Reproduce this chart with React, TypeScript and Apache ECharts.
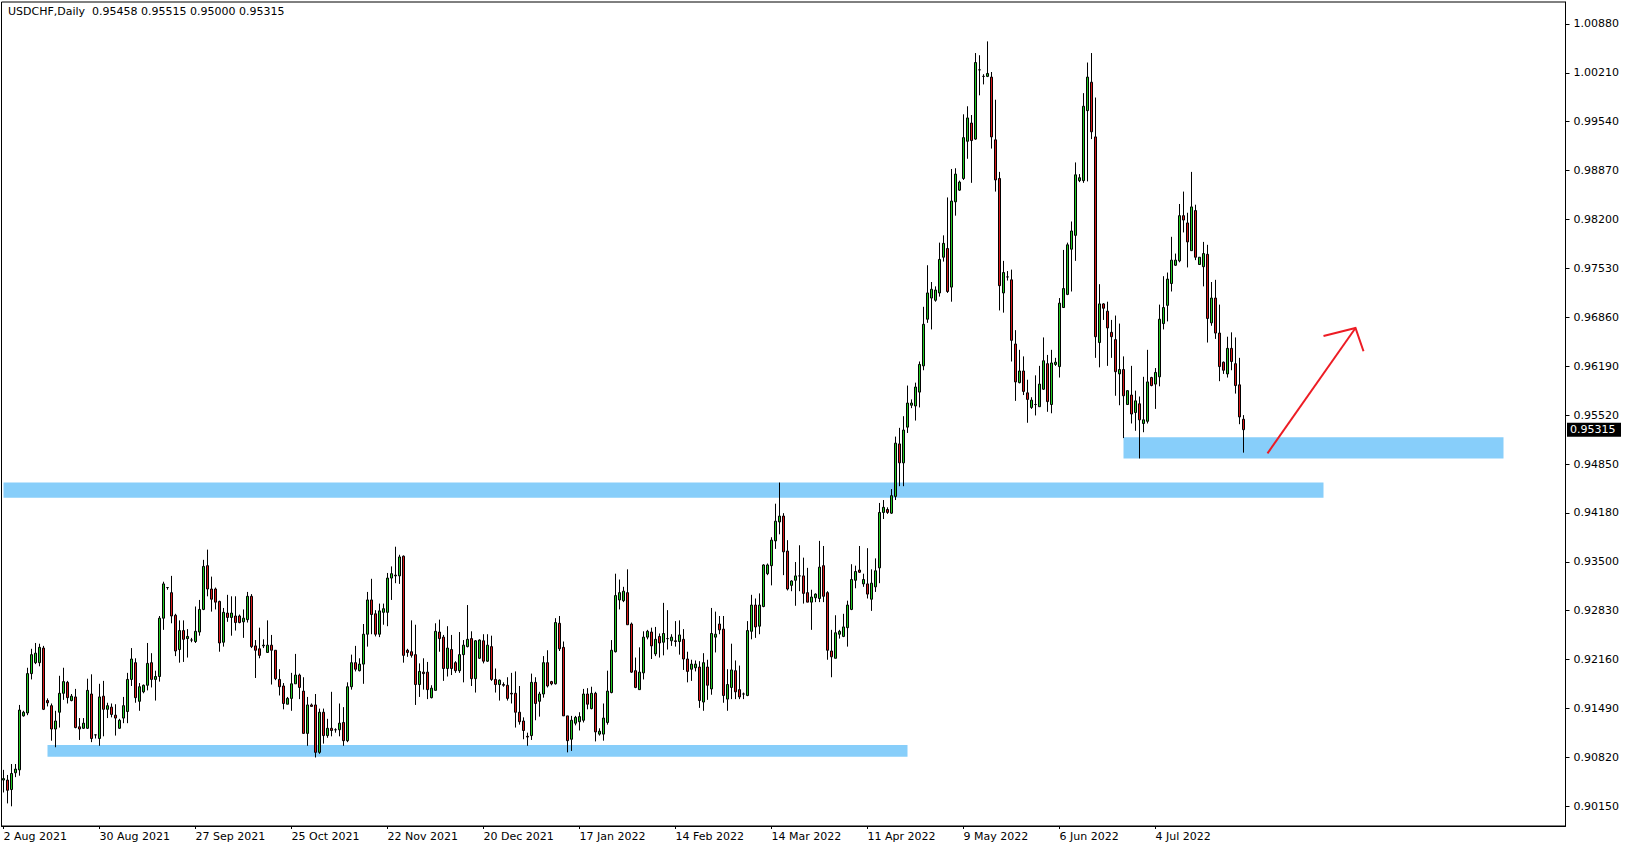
import { useEffect, useRef } from "react";
import * as echarts from "echarts";

// ---------- header / last bar ----------
const SYMBOL_TITLE = "USDCHF,Daily";
const LAST_OHLC = [0.95458, 0.95515, 0.95, 0.95315]; // open, high, low, close (as shown in the header)

// ---------- x axis (daily bars, MT4 incl. Sunday bars) ----------
const DATE_TICK_INDEX = [0, 24, 48, 72, 96, 120, 144, 168, 192, 216, 240, 264, 288];
const DATE_TICK_LABELS = [
  "2 Aug 2021", "30 Aug 2021", "27 Sep 2021", "25 Oct 2021", "22 Nov 2021", "20 Dec 2021",
  "17 Jan 2022", "14 Feb 2022", "14 Mar 2022", "11 Apr 2022", "9 May 2022", "6 Jun 2022", "4 Jul 2022",
];
const EMPTY_SLOTS_RIGHT = 80; // chart shift space to the right of the last bar

// ---------- y axis ----------
const PRICE_MIN = 0.8988;
const PRICE_MAX = 1.0118;
const PRICE_TICKS = [0.9015, 0.90821, 0.91491, 0.92162, 0.92833, 0.93503, 0.94174, 0.94844, 0.95515, 0.96186, 0.96856, 0.97527, 0.98198, 0.98868, 0.99539, 1.00209, 1.0088];
const PRICE_TICK_LABELS = ["0.90150", "0.90820", "0.91490", "0.92160", "0.92830", "0.93500", "0.94180", "0.94850", "0.95520", "0.96190", "0.96860", "0.97530", "0.98200", "0.98870", "0.99540", "1.00210", "1.00880"];

// ---------- candles: [open, close, low, high] ----------
const BARS_2AUG21 = [
  [0.9051, 0.9053, 0.9034, 0.9065], [0.9051, 0.9037, 0.9019, 0.9058], [0.9038, 0.906, 0.9015, 0.9073], [0.9061, 0.9066, 0.9055, 0.9073],
  [0.9065, 0.9147, 0.9057, 0.9154], [0.9139, 0.9144, 0.9138, 0.9146], [0.9143, 0.9197, 0.914, 0.9205], [0.9197, 0.9223, 0.9189, 0.9231],
  [0.9212, 0.9225, 0.921, 0.9239], [0.9212, 0.9233, 0.9207, 0.9238], [0.9232, 0.9148, 0.9147, 0.9235], [0.916, 0.9157, 0.9152, 0.9163],
  [0.9153, 0.9121, 0.9105, 0.9156], [0.9121, 0.9132, 0.9096, 0.9146], [0.9144, 0.917, 0.9123, 0.9194], [0.917, 0.9186, 0.9161, 0.9205],
  [0.9185, 0.9164, 0.9156, 0.9187], [0.916, 0.9166, 0.9159, 0.9169], [0.9165, 0.9123, 0.9122, 0.9176], [0.9124, 0.9121, 0.9106, 0.9136],
  [0.9122, 0.9129, 0.9121, 0.9136], [0.9122, 0.9174, 0.9121, 0.919], [0.9169, 0.9108, 0.9103, 0.9196], [0.9113, 0.9113, 0.9108, 0.9113],
];
const BARS_30AUG21 = [
  [0.9108, 0.9165, 0.9098, 0.9183], [0.9166, 0.9148, 0.9111, 0.9187], [0.9148, 0.9153, 0.9136, 0.9157], [0.9151, 0.9141, 0.9137, 0.9156],
  [0.914, 0.9136, 0.9112, 0.9155], [0.9122, 0.9133, 0.9121, 0.9135], [0.9136, 0.9153, 0.9129, 0.9165], [0.9145, 0.9189, 0.9129, 0.9198],
  [0.9189, 0.9217, 0.918, 0.9232], [0.9212, 0.9164, 0.9157, 0.9218], [0.9159, 0.9179, 0.9146, 0.9184], [0.9172, 0.9181, 0.917, 0.9182],
  [0.9181, 0.9211, 0.9174, 0.9239], [0.9212, 0.9189, 0.9178, 0.9225], [0.9189, 0.9193, 0.916, 0.9201], [0.9193, 0.9273, 0.9186, 0.9276],
  [0.9273, 0.932, 0.9257, 0.9323], [0.9315, 0.9315, 0.9312, 0.9315], [0.9308, 0.9276, 0.9266, 0.9331], [0.9277, 0.9228, 0.9221, 0.9279],
  [0.923, 0.9256, 0.9212, 0.927], [0.9256, 0.9244, 0.9213, 0.927], [0.9245, 0.9248, 0.9219, 0.9258], [0.9243, 0.9243, 0.924, 0.9246],
];
const BARS_27SEP21 = [
  [0.9241, 0.9255, 0.9239, 0.9289], [0.9254, 0.9285, 0.9249, 0.9298], [0.9285, 0.9344, 0.9284, 0.9353], [0.9345, 0.9313, 0.9303, 0.9367],
  [0.9313, 0.9299, 0.9282, 0.933], [0.9313, 0.9295, 0.9285, 0.9315], [0.9296, 0.9239, 0.9227, 0.9297], [0.924, 0.9281, 0.9234, 0.9287],
  [0.928, 0.9274, 0.9268, 0.9305], [0.9274, 0.928, 0.9249, 0.9303], [0.9276, 0.9267, 0.9256, 0.9303], [0.9276, 0.9267, 0.9266, 0.9278],
  [0.9268, 0.9273, 0.9246, 0.9285], [0.9271, 0.9303, 0.9267, 0.9309], [0.9303, 0.9234, 0.9232, 0.9306], [0.9235, 0.9229, 0.9191, 0.9243],
  [0.9231, 0.9222, 0.9218, 0.926], [0.9235, 0.9236, 0.9232, 0.9244], [0.9226, 0.9236, 0.9226, 0.927], [0.9236, 0.9229, 0.9182, 0.925],
  [0.9229, 0.919, 0.9188, 0.9229], [0.9189, 0.9179, 0.9167, 0.9203], [0.918, 0.9156, 0.9148, 0.9184], [0.9155, 0.9163, 0.9155, 0.9165],
];
const BARS_25OCT21 = [
  [0.9163, 0.9183, 0.9146, 0.9198], [0.9183, 0.9195, 0.9183, 0.9224], [0.9195, 0.9178, 0.9162, 0.9197], [0.9173, 0.9115, 0.9115, 0.9192],
  [0.9115, 0.9154, 0.9098, 0.9165], [0.9154, 0.9152, 0.9152, 0.9156], [0.9154, 0.9089, 0.9082, 0.9169], [0.9089, 0.9144, 0.9087, 0.9149],
  [0.9144, 0.9112, 0.9101, 0.9149], [0.9112, 0.9122, 0.9109, 0.9135], [0.9122, 0.9119, 0.9111, 0.9172], [0.912, 0.912, 0.9116, 0.9122],
  [0.912, 0.9129, 0.9111, 0.9156], [0.913, 0.9105, 0.9098, 0.9151], [0.9105, 0.9179, 0.9103, 0.9185], [0.9179, 0.9212, 0.9175, 0.9223],
  [0.9212, 0.9203, 0.92, 0.9235], [0.9201, 0.921, 0.92, 0.9218], [0.921, 0.9251, 0.9183, 0.9265], [0.9251, 0.9298, 0.9234, 0.9309],
  [0.9298, 0.9278, 0.9251, 0.9327], [0.9279, 0.9251, 0.9248, 0.9284], [0.9251, 0.9283, 0.9247, 0.9293], [0.9281, 0.9286, 0.9264, 0.9293],
];
const BARS_22NOV21 = [
  [0.9281, 0.9328, 0.9262, 0.9335], [0.9328, 0.9334, 0.9298, 0.9344], [0.9332, 0.9331, 0.9321, 0.9371], [0.9331, 0.9357, 0.932, 0.936],
  [0.9358, 0.9222, 0.9212, 0.9359], [0.9229, 0.9226, 0.922, 0.9231], [0.9227, 0.9222, 0.9219, 0.927], [0.9223, 0.9182, 0.9154, 0.9264],
  [0.9182, 0.92, 0.9165, 0.9211], [0.9199, 0.9197, 0.9175, 0.9218], [0.9199, 0.9175, 0.9162, 0.9213], [0.9164, 0.9177, 0.9163, 0.9181],
  [0.9174, 0.9255, 0.9174, 0.9266], [0.9254, 0.9245, 0.9227, 0.9271], [0.9247, 0.9204, 0.9187, 0.925], [0.9204, 0.9232, 0.9193, 0.9262],
  [0.923, 0.9204, 0.9195, 0.925], [0.9212, 0.9201, 0.9198, 0.9214], [0.9201, 0.9223, 0.9198, 0.9254], [0.9223, 0.9236, 0.9185, 0.9243],
  [0.9234, 0.9244, 0.9233, 0.9291], [0.9245, 0.919, 0.918, 0.9255], [0.919, 0.9242, 0.9171, 0.9243], [0.9218, 0.9243, 0.9217, 0.9244],
];
const BARS_20DEC21 = [
  [0.9242, 0.9214, 0.9211, 0.9251], [0.9214, 0.9236, 0.9213, 0.9251], [0.9234, 0.9189, 0.9187, 0.9249], [0.9189, 0.9182, 0.9171, 0.9204],
  [0.9182, 0.9188, 0.916, 0.9189], [0.9182, 0.9181, 0.9179, 0.9185], [0.9181, 0.9163, 0.916, 0.9192], [0.917, 0.9169, 0.9156, 0.9198],
  [0.917, 0.9144, 0.9123, 0.92], [0.9144, 0.9131, 0.9127, 0.918], [0.9132, 0.9119, 0.9107, 0.9137], [0.9111, 0.911, 0.9098, 0.9116],
  [0.9112, 0.9185, 0.9106, 0.9197], [0.9185, 0.9156, 0.9133, 0.9192], [0.9159, 0.9169, 0.9138, 0.9172], [0.9169, 0.9212, 0.9164, 0.9221],
  [0.9212, 0.918, 0.9178, 0.9229], [0.9186, 0.9183, 0.9181, 0.9187], [0.9183, 0.9267, 0.9182, 0.9273], [0.9266, 0.9231, 0.9228, 0.9276],
  [0.9233, 0.9139, 0.9139, 0.9241], [0.9139, 0.9105, 0.9089, 0.9139], [0.9107, 0.9133, 0.9091, 0.9139], [0.9129, 0.9137, 0.9126, 0.9139],
];
const BARS_17JAN22 = [
  [0.9131, 0.9138, 0.9119, 0.9144], [0.9133, 0.9169, 0.913, 0.9176], [0.9169, 0.9155, 0.9148, 0.9177], [0.9149, 0.917, 0.9148, 0.9179],
  [0.917, 0.9117, 0.9104, 0.9172], [0.9114, 0.9118, 0.9112, 0.9122], [0.9114, 0.9136, 0.9105, 0.9156], [0.913, 0.9173, 0.9127, 0.9201],
  [0.9171, 0.9229, 0.917, 0.9243], [0.9227, 0.9304, 0.9226, 0.9334], [0.9298, 0.9308, 0.9285, 0.9326], [0.9297, 0.931, 0.9295, 0.9316],
  [0.9308, 0.9264, 0.9264, 0.934], [0.9265, 0.9199, 0.9198, 0.9267], [0.9201, 0.9178, 0.9177, 0.9219], [0.9175, 0.9199, 0.9175, 0.9233],
  [0.9198, 0.9247, 0.9189, 0.9255], [0.9247, 0.9255, 0.9244, 0.9257], [0.9254, 0.9235, 0.9217, 0.926], [0.9224, 0.9244, 0.9221, 0.9261],
  [0.9248, 0.9239, 0.9219, 0.9252], [0.924, 0.9252, 0.9222, 0.9294], [0.9245, 0.9245, 0.923, 0.9284], [0.9242, 0.9247, 0.9235, 0.9251],
];
const BARS_14FEB22 = [
  [0.9242, 0.9241, 0.9234, 0.9269], [0.9241, 0.925, 0.9223, 0.927], [0.9244, 0.9217, 0.9202, 0.9258], [0.9217, 0.92, 0.9185, 0.9227],
  [0.9203, 0.921, 0.9187, 0.9216], [0.9205, 0.921, 0.92, 0.9215], [0.9206, 0.916, 0.915, 0.9214], [0.9158, 0.9212, 0.9146, 0.9225],
  [0.9206, 0.9181, 0.9161, 0.9216], [0.9176, 0.9252, 0.9168, 0.9287], [0.9247, 0.9251, 0.9226, 0.9282], [0.9265, 0.9257, 0.9251, 0.9276],
  [0.9258, 0.9167, 0.9157, 0.9276], [0.9162, 0.9182, 0.9146, 0.9203], [0.9178, 0.9202, 0.9162, 0.9238], [0.9201, 0.9172, 0.9162, 0.9215],
  [0.9175, 0.9165, 0.9162, 0.9208], [0.9169, 0.9169, 0.9162, 0.9171], [0.9167, 0.9256, 0.9166, 0.9269], [0.9255, 0.9291, 0.9244, 0.9305],
  [0.9291, 0.9261, 0.9246, 0.93], [0.9262, 0.9291, 0.9251, 0.9307], [0.9289, 0.9346, 0.9288, 0.9347], [0.9334, 0.9346, 0.9332, 0.9348],
];
const BARS_14MAR22 = [
  [0.9345, 0.938, 0.9318, 0.9384], [0.9379, 0.9406, 0.9368, 0.943], [0.9405, 0.9413, 0.9388, 0.9459], [0.9413, 0.9364, 0.9332, 0.9417],
  [0.9365, 0.9313, 0.9311, 0.938], [0.9318, 0.9324, 0.931, 0.9325], [0.9325, 0.9331, 0.929, 0.935], [0.9331, 0.9331, 0.931, 0.9373],
  [0.9331, 0.9307, 0.9293, 0.9356], [0.9308, 0.9295, 0.9295, 0.9342], [0.9295, 0.9302, 0.9257, 0.9312], [0.9301, 0.9306, 0.9295, 0.9307],
  [0.93, 0.9343, 0.9295, 0.9379], [0.9345, 0.9303, 0.9295, 0.9372], [0.9308, 0.9229, 0.9216, 0.931], [0.9228, 0.922, 0.9192, 0.9257],
  [0.9218, 0.9253, 0.9218, 0.9277], [0.9251, 0.9255, 0.9245, 0.9257], [0.9248, 0.9261, 0.9247, 0.9279], [0.926, 0.9291, 0.9234, 0.9297],
  [0.9285, 0.9326, 0.9284, 0.9347], [0.9325, 0.9337, 0.9314, 0.9345], [0.9339, 0.9336, 0.9335, 0.9372], [0.932, 0.9326, 0.9316, 0.9334],
];
const BARS_11APR22 = [
  [0.932, 0.9306, 0.93, 0.9369], [0.9299, 0.9321, 0.9283, 0.934], [0.9316, 0.9338, 0.9309, 0.9355], [0.9342, 0.9418, 0.9321, 0.9431],
  [0.9418, 0.9425, 0.9409, 0.9435], [0.9422, 0.9418, 0.9416, 0.9425], [0.9417, 0.9441, 0.9416, 0.945], [0.944, 0.9513, 0.9435, 0.9522],
  [0.9512, 0.9486, 0.9454, 0.9534], [0.9486, 0.9531, 0.9454, 0.955], [0.9535, 0.9568, 0.9527, 0.9592], [0.9565, 0.9568, 0.9561, 0.9573],
  [0.9564, 0.959, 0.9544, 0.9596], [0.9583, 0.9621, 0.9562, 0.9625], [0.9619, 0.9676, 0.9613, 0.97], [0.9683, 0.9719, 0.9678, 0.9757],
  [0.9712, 0.9724, 0.9669, 0.9734], [0.9709, 0.9723, 0.9707, 0.9728], [0.9719, 0.9765, 0.9714, 0.9788], [0.9768, 0.9787, 0.9762, 0.9798],
  [0.978, 0.9721, 0.9719, 0.985], [0.9727, 0.9845, 0.9707, 0.9889], [0.9844, 0.9882, 0.9825, 0.989], [0.986, 0.9871, 0.9859, 0.9873],
];
const BARS_9MAY22 = [
  [0.9876, 0.9932, 0.9874, 0.9964], [0.9927, 0.9959, 0.9903, 0.9975], [0.9952, 0.9928, 0.987, 0.9963], [0.993, 1.0035, 0.9929, 1.0048],
  [1.0025, 1.0025, 0.999, 1.0045], [1.0016, 1.0016, 1.0005, 1.0019], [1.0016, 1.002, 1.0015, 1.0064], [1.0015, 0.9933, 0.9917, 1.0022],
  [0.9929, 0.9874, 0.9858, 0.9984], [0.9876, 0.9729, 0.9695, 0.9885], [0.9719, 0.9747, 0.9692, 0.9763], [0.9741, 0.9741, 0.9736, 0.9749],
  [0.9737, 0.9654, 0.9625, 0.9751], [0.9649, 0.9597, 0.9571, 0.9668], [0.9596, 0.9612, 0.9595, 0.9641], [0.9612, 0.9584, 0.9579, 0.9632],
  [0.9582, 0.9573, 0.9541, 0.96], [0.9562, 0.9572, 0.956, 0.9576], [0.9566, 0.9566, 0.9551, 0.9606], [0.9563, 0.9594, 0.9563, 0.9619],
  [0.9587, 0.9626, 0.9586, 0.9658], [0.9622, 0.957, 0.9556, 0.9634], [0.9566, 0.9623, 0.9554, 0.9641], [0.9621, 0.9624, 0.9619, 0.963],
];
const BARS_6JUN22 = [
  [0.9618, 0.9705, 0.9603, 0.9712], [0.9699, 0.9725, 0.9699, 0.9778], [0.9717, 0.9785, 0.9716, 0.9788], [0.9779, 0.9804, 0.9721, 0.9817],
  [0.9798, 0.9881, 0.9763, 0.9898], [0.9873, 0.9877, 0.9871, 0.9882], [0.9873, 0.9975, 0.987, 0.9993], [0.9969, 1.0015, 0.9872, 1.0035],
  [1.0008, 0.994, 0.993, 1.0048], [0.9933, 0.9659, 0.963, 0.9987], [0.9651, 0.9704, 0.9617, 0.9731], [0.9704, 0.9698, 0.9682, 0.9705],
  [0.9694, 0.9671, 0.9619, 0.9707], [0.9665, 0.9659, 0.963, 0.9682], [0.9655, 0.9611, 0.9578, 0.9688], [0.9608, 0.9614, 0.9565, 0.9677],
  [0.9614, 0.9578, 0.952, 0.9632], [0.9566, 0.9585, 0.9566, 0.9585], [0.9579, 0.9553, 0.954, 0.9619], [0.9555, 0.9571, 0.953, 0.9585],
  [0.9567, 0.9545, 0.9492, 0.9577], [0.954, 0.9545, 0.9528, 0.9604], [0.9543, 0.9597, 0.954, 0.9641], [0.9603, 0.9592, 0.9591, 0.9604],
];
const BARS_4JUL22 = [
  [0.9594, 0.961, 0.956, 0.9616], [0.9604, 0.9683, 0.9591, 0.9703], [0.9677, 0.9699, 0.9669, 0.9742], [0.9702, 0.9738, 0.968, 0.9747],
  [0.9732, 0.9764, 0.9721, 0.9796], [0.9757, 0.9764, 0.9756, 0.9773], [0.9763, 0.9825, 0.9761, 0.9841], [0.9825, 0.9819, 0.9802, 0.9858],
  [0.9815, 0.9789, 0.9754, 0.9829], [0.9777, 0.9837, 0.9777, 0.9885], [0.9832, 0.9768, 0.9764, 0.984], [0.9758, 0.9768, 0.9758, 0.9768],
  [0.9755, 0.9773, 0.9728, 0.9789], [0.9772, 0.9684, 0.9651, 0.9785], [0.9678, 0.9712, 0.9674, 0.9734], [0.9712, 0.9664, 0.9656, 0.9737],
  [0.9664, 0.9618, 0.9598, 0.9703], [0.9624, 0.9613, 0.9608, 0.9625], [0.9608, 0.9643, 0.9603, 0.9659], [0.9643, 0.9625, 0.9613, 0.9665],
  [0.9622, 0.9592, 0.9581, 0.9658], [0.9593, 0.9549, 0.9539, 0.963], [0.95458, 0.95315, 0.95, 0.95515],
];

// ---------- drawn objects (bar index, price) ----------
const ZONE_FROM = [0, 280, 11];
const ZONE_TO = [330, 375, 226];
const ZONE_LOW = [0.9438, 0.9492, 0.9083];
const ZONE_HIGH = [0.9459, 0.9521, 0.9099];
const ARROW_TAIL = [316, 0.9499];
const ARROW_TIP = [338, 0.9671];
const ARROW_HEAD_A = [330, 0.966];
const ARROW_HEAD_B = [340, 0.9639];

const BULL = "#22c922";
const BEAR = "#d81818";
const ZONE_COLOR = "#87CEFA";
const ARROW_COLOR = "#ED1C24";
const FONT = '"DejaVu Sans", Verdana, sans-serif';

export default function App() {
  const ref = useRef<HTMLDivElement>(null);

  useEffect(() => {
    if (!ref.current) return;
    const chart = echarts.init(ref.current, undefined, { renderer: "svg" });

    const bars = [
      ...BARS_2AUG21, ...BARS_30AUG21, ...BARS_27SEP21, ...BARS_25OCT21, ...BARS_22NOV21, ...BARS_20DEC21,
      ...BARS_17JAN22, ...BARS_14FEB22, ...BARS_14MAR22, ...BARS_11APR22, ...BARS_9MAY22, ...BARS_6JUN22, ...BARS_4JUL22,
    ];
    const slots = bars.length + EMPTY_SLOTS_RIGHT;
    const categories = Array.from({ length: slots }, (_, i) => String(i));
    const tickMap: Record<number, string> = {};
    DATE_TICK_INDEX.forEach((idx, k) => (tickMap[idx] = DATE_TICK_LABELS[k]));
    const isTick = (i: number) => tickMap[i] !== undefined;

    const priceLabel = (v: number) => {
      let best = 0;
      let bd = Infinity;
      PRICE_TICKS.forEach((t, k) => {
        const d = Math.abs(t - v);
        if (d < bd) { bd = d; best = k; }
      });
      return PRICE_TICK_LABELS[best];
    };

    const header = `${SYMBOL_TITLE}  ${LAST_OHLC.map((v) => v.toFixed(5)).join(" ")}`;

    chart.setOption({
      animation: false,
      backgroundColor: "#ffffff",
      textStyle: { fontFamily: FONT, fontSize: 11 },
      grid: {
        left: 1.5, top: 2, width: 1564, height: 824,
        show: true, borderColor: "#000", borderWidth: 1, backgroundColor: "transparent",
      },
      xAxis: {
        type: "category",
        data: categories,
        boundaryGap: true,
        axisLine: { show: true, lineStyle: { color: "#000", width: 1 } },
        axisTick: { show: true, alignWithLabel: true, interval: (i: number) => isTick(i), length: 3, lineStyle: { color: "#000" } },
        axisLabel: {
          interval: (i: number) => isTick(i),
          formatter: (v: string) => tickMap[Number(v)] ?? "",
          align: "left", margin: 5, fontSize: 11, color: "#000", fontFamily: FONT,
          hideOverlap: false,
        },
        splitLine: { show: false },
      },
      yAxis: {
        type: "value",
        position: "right",
        min: PRICE_MIN,
        max: PRICE_MAX,
        scale: true,
        axisLine: { show: true, lineStyle: { color: "#000", width: 1 } },
        axisTick: { show: true, length: 4, customValues: PRICE_TICKS, lineStyle: { color: "#000" } },
        axisLabel: {
          customValues: PRICE_TICKS,
          formatter: (v: number) => priceLabel(v),
          margin: 8, fontSize: 11, color: "#000", fontFamily: FONT,
        },
        splitLine: { show: false },
      },
      series: [
        {
          type: "line",
          data: [],
          silent: true,
          z: 1,
          markArea: {
            silent: true,
            itemStyle: { color: ZONE_COLOR, opacity: 1, borderWidth: 0 },
            data: ZONE_FROM.map((f, k) => [
              { xAxis: f, yAxis: ZONE_LOW[k] },
              { xAxis: ZONE_TO[k], yAxis: ZONE_HIGH[k] },
            ]),
          },
        },
        {
          type: "candlestick",
          z: 2,
          data: bars,
          barWidth: 2,
          itemStyle: {
            color: BULL, color0: BEAR,
            borderColor: "#000", borderColor0: "#000", borderColorDoji: "#000",
            borderWidth: 1,
          },
        },
      ],
    });

    const px = (p: number[]) => chart.convertToPixel({ gridIndex: 0 }, p) as number[];
    const tail = px(ARROW_TAIL);
    const tip = px(ARROW_TIP);
    const ha = px(ARROW_HEAD_A);
    const hb = px(ARROW_HEAD_B);
    const lastY = chart.convertToPixel({ yAxisIndex: 0 }, LAST_OHLC[3]) as number;

    chart.setOption({
      graphic: [
        {
          type: "text", left: 8, top: 6, z: 100,
          style: { text: header, font: `11px ${FONT}`, fill: "#000" },
        },
        {
          type: "line", z: 50,
          shape: { x1: tail[0], y1: tail[1], x2: tip[0], y2: tip[1] },
          style: { stroke: ARROW_COLOR, lineWidth: 2 },
        },
        {
          type: "polyline", z: 50,
          shape: { points: [ha, tip, hb] },
          style: { stroke: ARROW_COLOR, lineWidth: 2, fill: "none" },
        },
        {
          type: "rect", z: 100,
          shape: { x: 1567, y: lastY - 7, width: 54, height: 14 },
          style: { fill: "#000" },
        },
        {
          type: "text", z: 101, x: 1570, y: lastY,
          style: { text: LAST_OHLC[3].toFixed(5), font: `11px ${FONT}`, fill: "#fff", textVerticalAlign: "middle" },
        },
      ],
    });

    return () => chart.dispose();
  }, []);

  return (
    <div
      ref={ref}
      style={{ position: "fixed", left: 0, top: 0, width: 1629, height: 850, background: "#fff" }}
    />
  );
}
